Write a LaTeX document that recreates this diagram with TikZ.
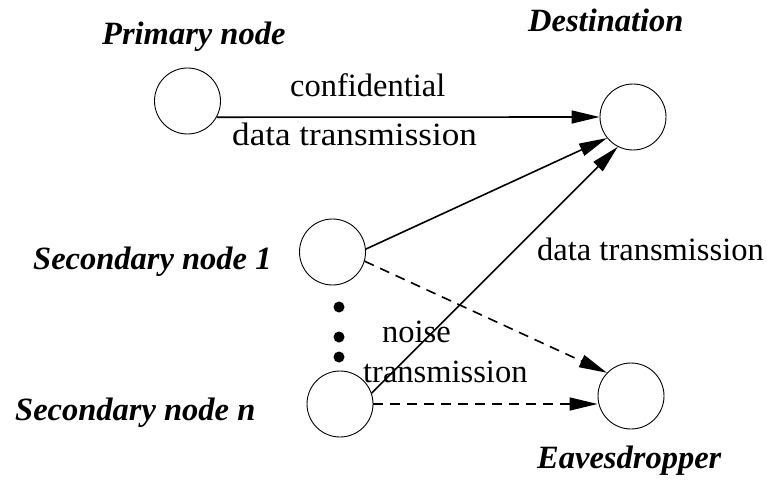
\documentclass[tikz,border=0pt]{standalone}
\usepackage{fontspec}
\setmainfont{Liberation Serif}
\usetikzlibrary{arrows.meta}
\begin{document}
\begin{tikzpicture}[x=1pt,y=-1pt,
  nd/.style={circle,draw,line width=0.9pt,minimum size=66pt,inner sep=0pt},
  lbl/.style={anchor=base west,inner sep=0pt,font=\fontsize{32.5}{36}\selectfont\bfseries\itshape},
  txt/.style={anchor=base west,inner sep=0pt,font=\fontsize{32.5}{36}\selectfont},
  arr/.style={line width=1.6pt,-{Triangle[length=28pt,width=13pt]}},
  darr/.style={arr,dash pattern=on 10pt off 7pt},
  dotc/.style={circle,fill,inner sep=0pt,minimum size=11pt}]
\useasboundingbox (0,0) rectangle (767,481);
\node[nd] (P) at (187.5,101) {};
\node[nd] (D) at (633,117) {};
\node[nd] (S1) at (332.5,252) {};
\node[nd] (Sn) at (340,404) {};
\node[nd] (E) at (631,396) {};
\node[dotc] (d1) at (339,307) {};
\node[dotc] (d2) at (339,337) {};
\node[dotc] (d3) at (339,357) {};
\node[lbl] (lP) at (102,45) {Primary node};
\node[lbl] (lD) at (528,32) {Destination};
\node[lbl] (lS1) at (33,269) {Secondary node 1};
\node[lbl] (lSn) at (15,420) {Secondary node n};
\node[lbl] (lE) at (537,468) {Eavesdropper};
\node[txt] (t1) at (290,97) {confidential};
\node[txt] (t2) at (232,146) {\scalebox{1.08}[1]{data transmission}};
\node[txt] (t3) at (537,260) {data transmission};
\node[txt] (t4) at (382,342) {noise};
\node[txt] (t5) at (363,382) {transmission};
\draw[arr] (P.-29) -- (D.west);
\draw[arr] (S1.5) -- (D.219);
\draw[arr] (Sn.19) -- (D.243);
\draw[darr] (S1.-16) -- (E.136);
\draw[darr] (Sn.east) -- (Sn.east -| E.west);
\end{tikzpicture}
\end{document}
